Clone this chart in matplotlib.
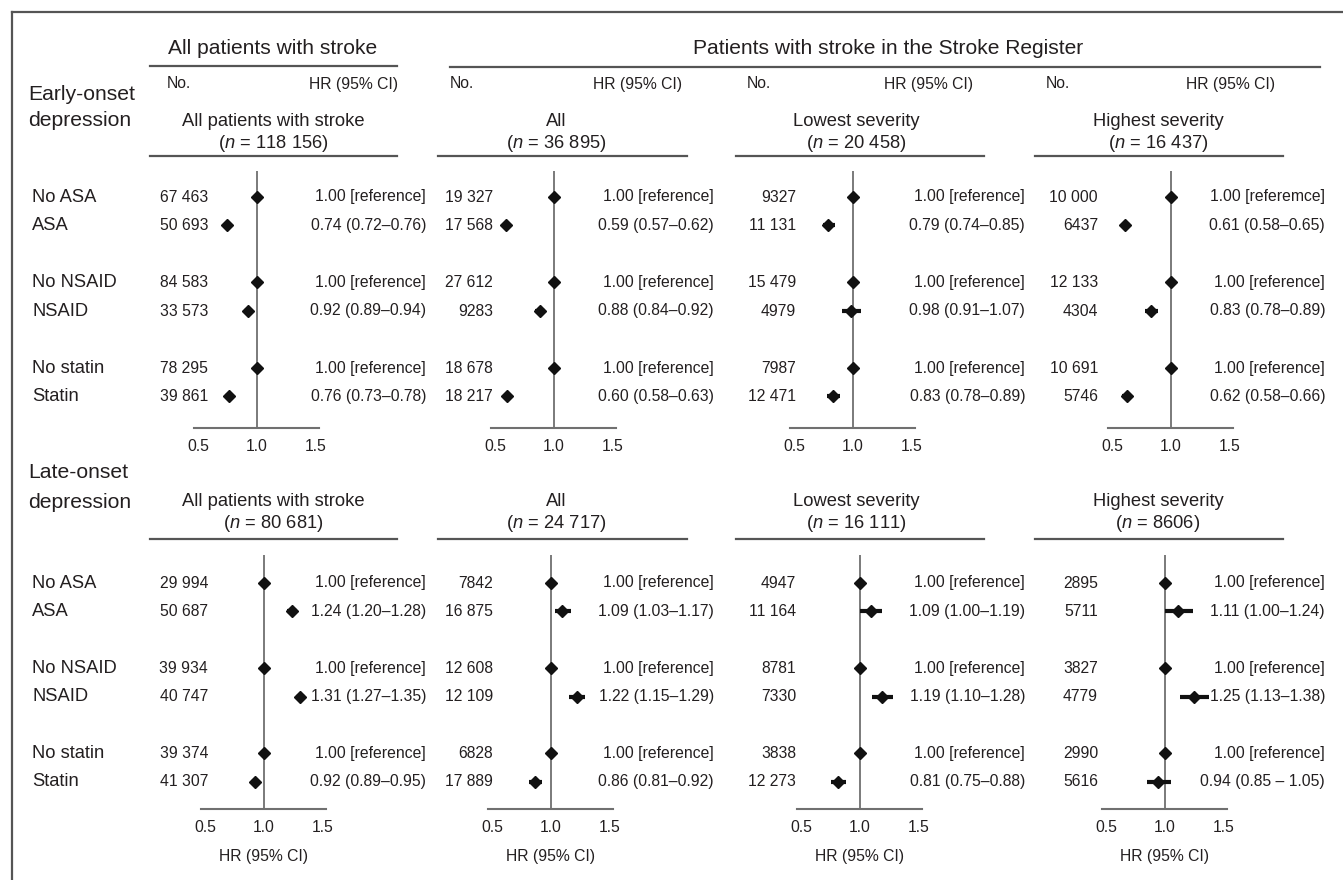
import numpy as np
import matplotlib.pyplot as plt
from matplotlib import transforms

plt.rcParams['font.family'] = ['Liberation Sans', 'DejaVu Sans']
plt.rcParams['mathtext.fontset'] = 'custom'
plt.rcParams['mathtext.rm'] = 'Liberation Sans'
plt.rcParams['mathtext.it'] = 'Liberation Sans:italic'

# ---------------- data ----------------
rows = ['No ASA', 'ASA', 'No NSAID', 'NSAID', 'No statin', 'Statin']
groups = ['All patients with stroke', 'All', 'Lowest severity', 'Highest severity']

early_total = [118156, 36895, 20458, 16437]
early_counts = [
    [67463, 50693, 84583, 33573, 78295, 39861],
    [19327, 17568, 27612, 9283, 18678, 18217],
    [9327, 11131, 15479, 4979, 7987, 12471],
    [10000, 6437, 12133, 4304, 10691, 5746],
]
early_hr = [
    [1.00, 0.74, 1.00, 0.92, 1.00, 0.76],
    [1.00, 0.59, 1.00, 0.88, 1.00, 0.60],
    [1.00, 0.79, 1.00, 0.98, 1.00, 0.83],
    [1.00, 0.61, 1.00, 0.83, 1.00, 0.62],
]
early_lo = [
    [1.00, 0.72, 1.00, 0.89, 1.00, 0.73],
    [1.00, 0.57, 1.00, 0.84, 1.00, 0.58],
    [1.00, 0.74, 1.00, 0.91, 1.00, 0.78],
    [1.00, 0.58, 1.00, 0.78, 1.00, 0.58],
]
early_hi = [
    [1.00, 0.76, 1.00, 0.94, 1.00, 0.78],
    [1.00, 0.62, 1.00, 0.92, 1.00, 0.63],
    [1.00, 0.85, 1.00, 1.07, 1.00, 0.89],
    [1.00, 0.65, 1.00, 0.89, 1.00, 0.66],
]

late_total = [80681, 24717, 16111, 8606]
late_counts = [
    [29994, 50687, 39934, 40747, 39374, 41307],
    [7842, 16875, 12608, 12109, 6828, 17889],
    [4947, 11164, 8781, 7330, 3838, 12273],
    [2895, 5711, 3827, 4779, 2990, 5616],
]
late_hr = [
    [1.00, 1.24, 1.00, 1.31, 1.00, 0.92],
    [1.00, 1.09, 1.00, 1.22, 1.00, 0.86],
    [1.00, 1.09, 1.00, 1.19, 1.00, 0.81],
    [1.00, 1.11, 1.00, 1.25, 1.00, 0.94],
]
late_lo = [
    [1.00, 1.20, 1.00, 1.27, 1.00, 0.89],
    [1.00, 1.03, 1.00, 1.15, 1.00, 0.81],
    [1.00, 1.00, 1.00, 1.10, 1.00, 0.75],
    [1.00, 1.00, 1.00, 1.13, 1.00, 0.85],
]
late_hi = [
    [1.00, 1.28, 1.00, 1.35, 1.00, 0.95],
    [1.00, 1.17, 1.00, 1.29, 1.00, 0.92],
    [1.00, 1.19, 1.00, 1.28, 1.00, 0.88],
    [1.00, 1.24, 1.00, 1.38, 1.00, 1.05],
]

ticks = [0.5, 1.0, 1.5]
tick_labels = ['0.5', '1.0', '1.5']

# ---------------- layout (pixels) ----------------
W, H = 1343, 880
TXT = '#231f20'
LINE = '#555555'
GREY = '#707070'

col_left = [150, 438, 736, 1035]
col_right = [397, 687, 984, 1283]
title_cx = [273, 556, 856, 1158]
no_x = [167, 450, 747, 1046]
hrhead_right = [398, 682, 973, 1275]
count_right = [208, 493, 796, 1098]
hrtext_right = [426, 714, 1025, 1325]
row_pos = np.array([0, 1, 3, 4, 6, 7])
PX_PER_HR = 117.0
XLIM = (0.46, 1.53)

fig = plt.figure(figsize=(W / 100, H / 100), dpi=100)
base = fig.add_axes([0, 0, 1, 1])
base.set_xlim(0, W)
base.set_ylim(H, 0)
base.axis('off')

# frame (cropped on right/bottom in the original)
base.plot([12, W + 5], [12, 12], color=LINE, lw=1.6)
base.plot([12, 12], [12, H + 5], color=LINE, lw=1.6)


def fmt_n(n):
    if n >= 10000:
        return f'{n // 1000} {n % 1000:03d}'
    return str(n)


def px_axes(x0, y0, x1, y1):
    return fig.add_axes([x0 / W, 1 - y1 / H, (x1 - x0) / W, (y1 - y0) / H])


# top column headers
base.text(273, 49, 'All patients with stroke', fontsize=15.1, color=TXT,
          ha='center', va='center')
base.plot([150, 397], [66, 66], color=LINE, lw=1.6)
base.text(888, 49, 'Patients with stroke in the Stroke Register', fontsize=15.1,
          color=TXT, ha='center', va='center')
base.plot([450, 1320], [67, 67], color=LINE, lw=1.6)
for c in range(4):
    base.text(no_x[c], 84, 'No.', fontsize=11.3, color=TXT, ha='left', va='center')
    base.text(hrhead_right[c], 84, 'HR (95% CI)', fontsize=11.3, color=TXT,
              ha='right', va='center')

blocks = [
    dict(label=('Early-onset', 'depression'), label_y=(94, 121), title_y=(122, 143),
         rule_y=156, ax_top=171, ax_bot=428, row0=197, unit=28.5,
         ref_x=[257, 554, 853, 1171], total=early_total, counts=early_counts,
         hr=early_hr, lo=early_lo, hi=early_hi, xlabel=False),
    dict(label=('Late-onset', 'depression'), label_y=(473, 502), title_y=(502, 523),
         rule_y=539, ax_top=555, ax_bot=809, row0=583, unit=28.4,
         ref_x=[264, 551, 860, 1165], total=late_total, counts=late_counts,
         hr=late_hr, lo=late_lo, hi=late_hi, xlabel=True),
]

for b, blk in enumerate(blocks):
    base.text(28, blk['label_y'][0], blk['label'][0], fontsize=15.2, color=TXT,
              ha='left', va='center')
    base.text(28, blk['label_y'][1], blk['label'][1], fontsize=15.2, color=TXT,
              ha='left', va='center')
    for c in range(4):
        base.text(title_cx[c], blk['title_y'][0], groups[c], fontsize=13.2,
                  color=TXT, ha='center', va='center')
        base.text(title_cx[c], blk['title_y'][1],
                  r'($\mathit{n}$ = ' + fmt_n(blk['total'][c]) + ')',
                  fontsize=13.2, color=TXT, ha='center', va='center')
        base.plot([col_left[c], col_right[c]], [blk['rule_y']] * 2, color=LINE, lw=1.6)

        ref = blk['ref_x'][c]
        x0 = ref - (1.0 - XLIM[0]) * PX_PER_HR
        x1 = ref + (XLIM[1] - 1.0) * PX_PER_HR
        ax = px_axes(x0, blk['ax_top'], x1, blk['ax_bot'])
        ax.set_xlim(*XLIM)
        ax.set_ylim((blk['ax_bot'] - blk['row0']) / blk['unit'],
                    (blk['ax_top'] - blk['row0']) / blk['unit'])
        ax.patch.set_visible(False)
        for s in ['top', 'left', 'right']:
            ax.spines[s].set_visible(False)
        ax.spines['bottom'].set_color(GREY)
        ax.spines['bottom'].set_linewidth(1.5)
        ax.set_yticks([])
        ax.set_xticks(ticks)
        ax.set_xticklabels(tick_labels, fontsize=11.3, color=TXT)
        ax.tick_params(axis='x', length=0, pad=8)
        ax.axvline(1.0, color=GREY, lw=1.3, zorder=1)

        hr = np.array(blk['hr'][c])
        lo = np.array(blk['lo'][c])
        hi = np.array(blk['hi'][c])
        ax.hlines(row_pos, lo, hi, color='#111111', lw=3.0, zorder=3)
        ax.plot(hr, row_pos, 'D', color='#111111', ms=6.3, zorder=4, clip_on=False)

        if blk['xlabel']:
            ax.set_xlabel('HR (95% CI)', fontsize=11.3, color=TXT, labelpad=10)

        tr = transforms.blended_transform_factory(base.transData, ax.transData)
        for r in range(len(rows)):
            if c == 0:
                ax.text(32, row_pos[r], rows[r], transform=tr, fontsize=13.2,
                        color=TXT, ha='left', va='center')
            ax.text(count_right[c], row_pos[r], fmt_n(blk['counts'][c][r]),
                    transform=tr, fontsize=11.3, color=TXT, ha='right', va='center')
            if r % 2 == 0:
                word = 'referemce' if (b == 0 and c == 3 and r == 0) else 'reference'
                label = f'{hr[r]:.2f} [{word}]'
            else:
                dash = ' \u2013 ' if (b == 1 and c == 3 and r == 5) else '\u2013'
                label = f'{hr[r]:.2f} ({lo[r]:.2f}{dash}{hi[r]:.2f})'
            ax.text(hrtext_right[c], row_pos[r], label, transform=tr,
                    fontsize=11.3, color=TXT, ha='right', va='center')

fig.savefig('out.png', dpi=100)
